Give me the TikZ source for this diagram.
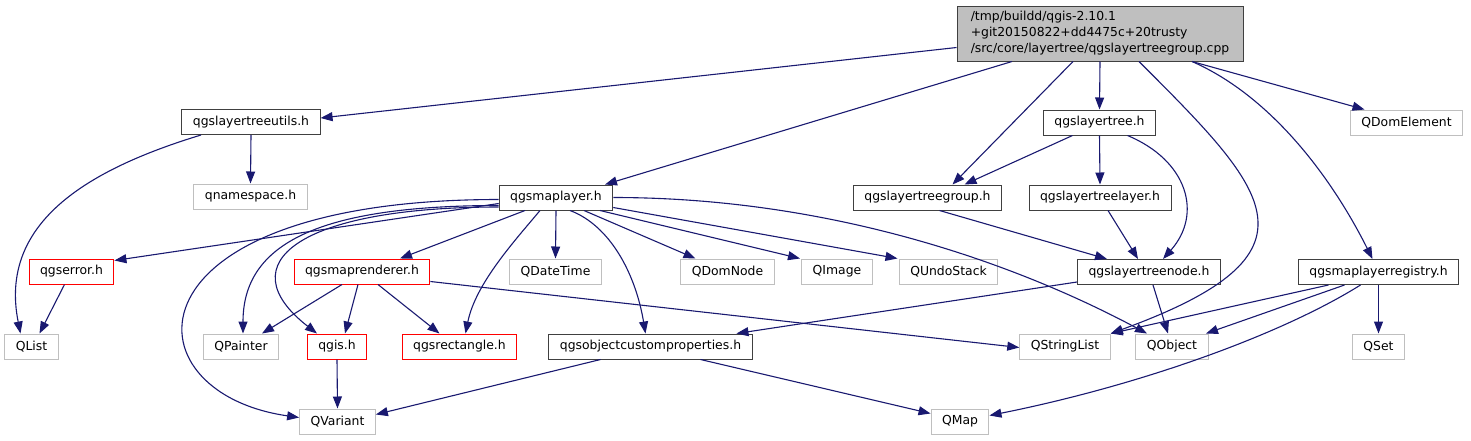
\documentclass[tikz,border=0pt]{standalone}
\usepackage{fontspec}
\setmainfont{DejaVu Sans}
\usetikzlibrary{arrows.meta}
\definecolor{edgeblue}{HTML}{191970}
\definecolor{docgray}{HTML}{404040}
\definecolor{extgray}{HTML}{BFBFBF}
\definecolor{mainfill}{HTML}{BFBFBF}
\tikzset{
  filebox/.style={draw, rectangle, line width=1pt, minimum height=25pt, inner xsep=11pt, inner ysep=0pt, font=\fontsize{12.4}{16}\selectfont, text=black},
  docbox/.style={filebox, draw=docgray},
  extbox/.style={filebox, draw=extgray},
  redbox/.style={filebox, draw=red},
  incl/.style={draw=edgeblue, line width=1.1pt, -{Triangle[length=12pt,width=9pt]}}
}
\begin{document}
\begin{tikzpicture}[x=1pt, y=-1pt]
\useasboundingbox (0,0) rectangle (1471,440);
\node[filebox, draw=docgray, fill=mainfill, align=left, minimum width=286pt, minimum height=55pt, inner xsep=10pt] (main) at (1100,33.5) {/tmp/buildd/qgis-2.10.1\\+git20150822+dd4475c+20trusty\\/src/core/layertree/qgslayertreegroup.cpp};
\node[docbox] (utils) at (251,122) {qgslayertreeutils.h};
\node[docbox] (ltree) at (1099.5,122.5) {qgslayertree.h};
\node[extbox] (domelem) at (1406.5,122.5) {QDomElement};
\node[extbox] (nspace) at (250.5,196.5) {qnamespace.h};
\node[docbox] (maplayer) at (556,197.5) {qgsmaplayer.h};
\node[docbox] (ltgroup) at (927.5,197.5) {qgslayertreegroup.h};
\node[docbox] (ltlayer) at (1100,197.5) {qgslayertreelayer.h};
\node[redbox] (qgserror) at (71.5,271.5) {qgserror.h};
\node[redbox] (maprend) at (362,271.5) {qgsmaprenderer.h};
\node[extbox] (datetime) at (555.5,271.5) {QDateTime};
\node[extbox] (domnode) at (727.5,271.5) {QDomNode};
\node[extbox] (qimage) at (837,271.5) {QImage};
\node[extbox] (undostack) at (948.5,271.5) {QUndoStack};
\node[docbox] (ltnode) at (1149,272) {qgslayertreenode.h};
\node[docbox] (registry) at (1378.5,272) {qgsmaplayerregistry.h};
\node[extbox] (qlist) at (31.5,346.5) {QList};
\node[extbox] (qpainter) at (241,346.5) {QPainter};
\node[redbox] (qgis) at (337,346.5) {qgis.h};
\node[redbox] (qgsrect) at (459.5,346.5) {qgsrectangle.h};
\node[docbox] (objprops) at (650.5,346.5) {qgsobjectcustomproperties.h};
\node[extbox] (strlist) at (1065,346.5) {QStringList};
\node[extbox] (qobject) at (1172,346.5) {QObject};
\node[extbox] (qset) at (1378.5,346.5) {QSet};
\node[extbox] (qvariant) at (337.5,421.5) {QVariant};
\node[extbox] (qmap) at (960,421.5) {QMap};

\draw[incl] ([yshift=-14pt]main.west) -- ([yshift=4pt]utils.east);
\draw[incl] ([xshift=-88pt]main.south) -- ([xshift=49pt]maplayer.north);
\draw[incl] ([xshift=-27pt]main.south) -- ([xshift=25pt]ltgroup.north);
\draw[incl] (main.south) -- (ltree.north);
\draw[incl] ([xshift=39pt]main.south) .. controls +(130,130) and +(220,-80) .. (strlist.north east);
\draw[incl] ([xshift=92pt]main.south) .. controls +(80,35) and +(-40,-80) .. ([xshift=-6pt]registry.north);
\draw[incl] ([xshift=92pt]main.south) -- ([xshift=-42pt]domelem.north);

\draw[incl] (utils.south) -- (nspace.north);
\draw[incl] ([xshift=-50pt]utils.south) .. controls +(-115,35) and +(-22,-110) .. ([xshift=-11pt]qlist.north);

\draw[incl] ([yshift=-6pt]maplayer.west) -- ([yshift=11pt]qgserror.east);
\draw[incl] ([xshift=-31pt]maplayer.south) -- ([xshift=38pt]maprend.north);
\draw[incl] (maplayer.south) -- (datetime.north);
\draw[incl] ([xshift=28pt]maplayer.south) -- ([xshift=-32pt]domnode.north);
\draw[incl] ([xshift=44pt]maplayer.south) -- ([xshift=-37pt]qimage.north);
\draw[incl] ([yshift=-10pt]maplayer.east) -- ([xshift=-51pt]undostack.north);
\draw[incl] (maplayer.east) .. controls +(200,0) and +(-150,-80) .. ([xshift=-25pt]qobject.north);
\draw[incl] ([xshift=14pt]maplayer.south) .. controls +(40,15) and +(-10,-60) .. ([xshift=-5pt]objprops.north);
\draw[incl] ([xshift=-16pt]maplayer.south) .. controls +(-25,30) and +(10,-50) .. ([xshift=6pt]qgsrect.north);
\draw[incl] ([yshift=-8pt]maplayer.west) .. controls +(-180,0) and +(0,-90) .. ([xshift=2pt]qpainter.north);
\draw[incl] ([yshift=-9.5pt]maplayer.west) .. controls +(-200,0) and +(-90,-70) .. ([xshift=-20pt]qgis.north);
\draw[incl] ([yshift=-2pt]maplayer.west) .. controls +(-380,0) and +(-175,-25) .. ([yshift=4pt]qvariant.west);

\draw[incl] ([xshift=-20pt]maprend.south) -- ([xshift=21pt]qpainter.north);
\draw[incl] ([xshift=-4pt]maprend.south) -- ([xshift=8pt]qgis.north);
\draw[incl] ([xshift=16pt]maprend.south) -- ([xshift=-20pt]qgsrect.north);
\draw[incl] ([yshift=-10pt]maprend.east) -- ([yshift=-1pt]strlist.west);

\draw[incl] (qgis.south) -- (qvariant.north);
\draw[incl] ([xshift=-50pt]objprops.south) -- ([yshift=7pt]qvariant.east);
\draw[incl] ([xshift=50pt]objprops.south) -- ([yshift=8pt]qmap.west);
\draw[incl] ([xshift=-7pt]qgserror.south) -- ([xshift=8pt]qlist.north);

\draw[incl] ([xshift=-27pt]ltree.south) -- ([xshift=37pt]ltgroup.north);
\draw[incl] (ltree.south) -- (ltlayer.north);
\draw[incl] ([xshift=28pt]ltree.south) .. controls +(60,25) and +(40,-45) .. ([xshift=14pt]ltnode.north);
\draw[incl] ([xshift=12pt]ltgroup.south) -- ([xshift=-42pt]ltnode.north);
\draw[incl] ([xshift=8pt]ltlayer.south) -- ([xshift=-11pt]ltnode.north);
\draw[incl] ([yshift=-10pt]ltnode.west) -- ([xshift=86pt]objprops.north);
\draw[incl] ([xshift=4pt]ltnode.south) -- ([xshift=-4pt]qobject.north);

\draw[incl] ([xshift=-50pt]registry.south) -- (strlist.north east);
\draw[incl] ([xshift=-34pt]registry.south) -- ([xshift=34pt]qobject.north);
\draw[incl] (registry.south) -- (qset.north);
\draw[incl] ([xshift=-18pt]registry.south) .. controls +(-80,50) and +(150,-30) .. ([yshift=6pt]qmap.east);
\end{tikzpicture}
\end{document}
